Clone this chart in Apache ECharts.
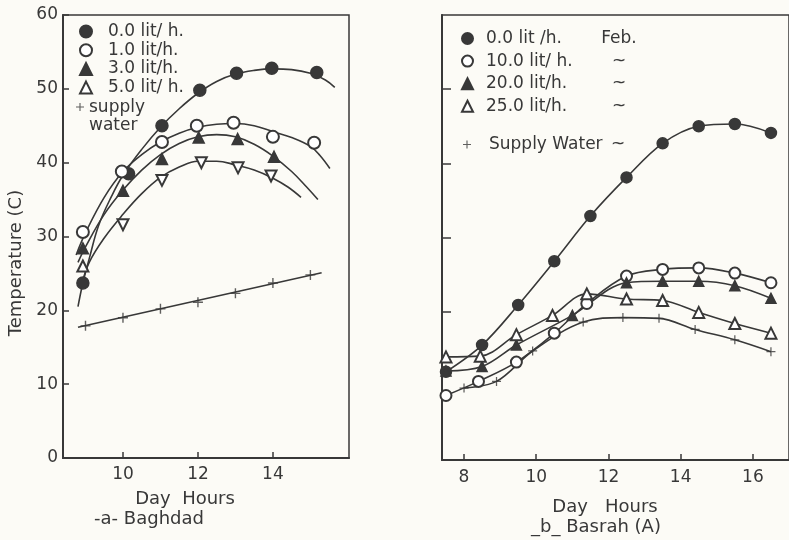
<!DOCTYPE html>
<html><head><meta charset="utf-8">
<script src="https://cdn.jsdelivr.net/npm/echarts@6/dist/echarts.min.js"></script>
<style>html,body{margin:0;padding:0;background:#fcfbf6}#c{width:789px;height:540px}</style>
</head><body><div id="c"></div>
<script>
// ---------- Panel a : Baghdad (markers) ----------
const bagHours0 = [8.93, 10.15, 11.04, 12.05, 13.03, 13.97, 15.17];
const bagTemp0  = [23.7, 38.5, 45.0, 49.8, 52.1, 52.8, 52.2];
const bagHours1 = [8.93, 9.97, 11.04, 11.97, 12.95, 14.0, 15.1];
const bagTemp1  = [30.6, 38.8, 42.8, 45.0, 45.4, 43.5, 42.7];
const bagHours3 = [8.93, 10.0, 11.04, 12.02, 13.06, 14.03];
const bagTemp3  = [28.4, 36.2, 40.5, 43.4, 43.2, 40.8];
const bagHours5 = [8.93, 10.0, 11.04, 12.09, 13.07, 13.95];
const bagTemp5  = [26.0, 31.6, 37.6, 40.0, 39.3, 38.2];
const bagSupplyHours = [9, 10, 11, 12, 13, 14, 15];
const bagSupplyTemp  = [17.9, 19.0, 20.2, 21.1, 22.3, 23.7, 24.8];
// ---------- Panel a : fitted curves ----------
const bagCurve0Hours = [8.8, 8.93, 9.1, 9.35, 9.7, 10, 10.5, 11, 11.5, 12, 12.5, 13, 13.5, 14, 14.5, 15, 15.4, 15.65];
const bagCurve0Temp  = [20.5, 23.7, 27, 31.5, 35.5, 38.3, 41.8, 44.8, 47.3, 49.4, 51, 52, 52.5, 52.7, 52.6, 52.1, 51.2, 50.2];
const bagCurve1Hours = [8.75, 9, 9.5, 10, 10.5, 11, 11.5, 12, 12.5, 13, 13.5, 14, 14.5, 15, 15.25, 15.52];
const bagCurve1Temp  = [27.5, 30.5, 35.3, 38.8, 41.1, 42.8, 44, 44.8, 45.2, 45.3, 45, 44.2, 43.4, 42.2, 41.0, 39.2];
const bagCurve3Hours = [8.8, 9, 9.5, 10, 10.5, 11, 11.5, 12, 12.5, 13, 13.5, 14, 14.5, 14.9, 15.2];
const bagCurve3Temp  = [26.5, 28.6, 33, 36.3, 39, 41.1, 42.6, 43.5, 43.8, 43.5, 42.5, 40.9, 38.8, 36.7, 35.0];
const bagCurve5Hours = [8.9, 9.1, 9.5, 10, 10.5, 11, 11.5, 12, 12.5, 13, 13.5, 14, 14.4, 14.75];
const bagCurve5Temp  = [23.5, 26.5, 29.8, 33, 35.8, 38, 39.4, 40.2, 40.2, 39.7, 39, 37.9, 36.7, 35.3];
const bagSupplyCurveHours = [8.8, 15.3];
const bagSupplyCurveTemp  = [17.7, 25.1];
// ---------- Panel b : Basrah ----------
const basHours0 = [7.5, 8.5, 9.5, 10.5, 11.5, 12.5, 13.5, 14.5, 15.5, 16.5];
const basTemp0  = [11.9, 15.5, 20.9, 26.8, 32.9, 38.1, 42.7, 45.0, 45.3, 44.1];
const basHours10 = [7.5, 8.4, 9.45, 10.5, 11.4, 12.5, 13.5, 14.5, 15.5, 16.5];
const basTemp10  = [8.7, 10.6, 13.2, 17.1, 21.1, 24.8, 25.7, 25.9, 25.2, 23.9];
const basHours20 = [7.5, 8.5, 9.45, 11.0, 12.5, 13.5, 14.5, 15.5, 16.5];
const basTemp20  = [12.0, 12.6, 15.5, 19.5, 23.9, 24.1, 24.1, 23.5, 21.8];
const basHours25 = [7.5, 8.45, 9.45, 10.45, 11.4, 12.5, 13.5, 14.5, 15.5, 16.5];
const basTemp25  = [13.9, 14.0, 16.9, 19.5, 22.4, 21.7, 21.5, 19.9, 18.4, 17.1];
const basSupplyHours = [8.0, 8.9, 9.9, 11.3, 12.4, 13.4, 14.4, 15.5, 16.5];
const basSupplyTemp  = [9.7, 10.6, 14.7, 18.6, 19.2, 19.1, 17.6, 16.2, 14.6];
// ---------- labels ----------
const bagNames = ['0.0 lit/ h.', '1.0 lit/h.', '3.0 lit/h.', '5.0 lit/ h.', 'supply water'];
const basNames = ['0.0 lit /h.', '10.0 lit/ h.', '20.0 lit/h.', '25.0 lit/h.', 'Supply Water'];
const basMonth = ['Feb.', '~', '~', '~', '~'];
const bagXTicks = [10, 12, 14];
const basXTicks = [8, 10, 12, 14, 16];
const yTicksRight = [20, 30, 40, 50];

const ink = '#383838';
const FONT = 'DejaVu Sans';
const zip = (xs, ys) => xs.map((x, i) => [x, ys[i]]);
const PLUS = 'path://M0,4.3H10V5.7H0Z M4.3,0H5.7V10H4.3Z';
const PLUS_TOP = 'path://M0,4.3H10V5.7H0Z M4.3,0H5.7V10H4.3Z M4.99,34.99H5V35H4.99Z';

function curve(xs, ys, gi, smooth) {
  return { type: 'line', xAxisIndex: gi, yAxisIndex: gi, data: zip(xs, ys), showSymbol: false,
    smooth: smooth, lineStyle: { color: ink, width: 1.6 }, silent: true, z: 2 };
}
function marks(name, xs, ys, gi, symbol, size, extra) {
  return Object.assign({ type: 'scatter', name: name, xAxisIndex: gi, yAxisIndex: gi, data: zip(xs, ys),
    symbol: symbol, symbolSize: size, itemStyle: { color: ink, borderColor: ink, borderWidth: 1.5, opacity: 1 }, z: 5 }, extra || {});
}

const bag5Data = zip(bagHours5, bagTemp5).map((p, i) => i === 0 ? { value: p, symbolRotate: 0 } : { value: p });

const series = [
  curve(bagCurve0Hours, bagCurve0Temp, 0, 0.4),
  curve(bagCurve1Hours, bagCurve1Temp, 0, 0.4),
  curve(bagCurve3Hours, bagCurve3Temp, 0, 0.4),
  curve(bagCurve5Hours, bagCurve5Temp, 0, 0.4),
  curve(bagSupplyCurveHours, bagSupplyCurveTemp, 0, false),
  marks(bagNames[0], bagHours0, bagTemp0, 0, 'circle', 12),
  marks(bagNames[1], bagHours1, bagTemp1, 0, 'emptyCircle', 12),
  marks(bagNames[2], bagHours3, bagTemp3, 0, 'triangle', 11),
  Object.assign(marks(bagNames[3], bagHours5, bagTemp5, 0, 'emptyTriangle', 11, { symbolRotate: 180 }), { data: bag5Data }),
  marks(bagNames[4], bagSupplyHours, bagSupplyTemp, 0, PLUS, 10, { itemStyle: { color: ink } }),
  curve(basHours0, basTemp0, 1, 0.35),
  curve(basHours10, basTemp10, 1, 0.35),
  curve(basHours20, basTemp20, 1, 0.35),
  curve(basHours25, basTemp25, 1, 0.35),
  curve(basSupplyHours, basSupplyTemp, 1, 0.35),
  marks(basNames[0], basHours0, basTemp0, 1, 'circle', 11),
  marks(basNames[1], basHours10, basTemp10, 1, 'emptyCircle', 11),
  marks(basNames[2], basHours20, basTemp20, 1, 'triangle', 10),
  marks(basNames[3], basHours25, basTemp25, 1, 'emptyTriangle', 11),
  marks(basNames[4], basSupplyHours, basSupplyTemp, 1, PLUS, 9, { itemStyle: { color: ink } })
];

const txt = { color: ink, fontFamily: FONT, fontSize: 17 };
const rt = (extra) => Object.assign({ lineHeight: 18 }, txt, extra);
const chart = echarts.init(document.getElementById('c'), null, { renderer: 'canvas' });
chart.setOption({
  backgroundColor: '#fcfbf6',
  animation: false,
  grid: [
    { left: 63, right: 440, top: 15, bottom: 82, show: true, borderColor: ink, borderWidth: 1.5 },
    { left: 442, right: -17, top: 15, bottom: 80, show: true, borderColor: ink, borderWidth: 1.5 }
  ],
  xAxis: [
    { type: 'value', gridIndex: 0, min: 8.4, max: 16.03, splitLine: { show: false },
      axisLine: { lineStyle: { color: ink, width: 2 } },
      axisTick: { inside: true, length: 6, customValues: bagXTicks, lineStyle: { color: ink, width: 1.5 } },
      axisLabel: Object.assign({ customValues: bagXTicks, margin: 8 }, txt) },
    { type: 'value', gridIndex: 1, min: 7.39, max: 17, splitLine: { show: false },
      axisLine: { lineStyle: { color: ink, width: 2 } },
      axisTick: { inside: true, length: 6, customValues: basXTicks, lineStyle: { color: ink, width: 1.5 } },
      axisLabel: Object.assign({ customValues: basXTicks, margin: 9 }, txt) }
  ],
  yAxis: [
    { type: 'value', gridIndex: 0, min: 0, max: 60, interval: 10, splitLine: { show: false },
      axisLine: { show: true, lineStyle: { color: ink, width: 2 } },
      axisTick: { show: true, inside: true, length: 6, lineStyle: { color: ink, width: 1.5 } },
      axisLabel: Object.assign({ margin: 5 }, txt) },
    { type: 'value', gridIndex: 1, min: 0, max: 60, splitLine: { show: false },
      axisLine: { show: true, lineStyle: { color: ink, width: 2 } },
      axisTick: { show: true, inside: true, length: 9, customValues: yTicksRight, lineStyle: { color: ink, width: 1.5 } },
      axisLabel: { show: false } }
  ],
  legend: [
    { orient: 'vertical', left: 79, top: 23, padding: 0, itemWidth: 12, itemHeight: 12, itemGap: 1.7, symbolRotate: 0,
      data: bagNames.slice(0, 4), selectedMode: false,
      formatter: (n) => '{p| }{a|' + n + '}',
      textStyle: { rich: { p: rt({ width: 11 }), a: rt({}) } } },
    { orient: 'vertical', left: 76, top: 99, padding: 0, itemWidth: 8, itemHeight: 30, itemGap: 0,
      data: [{ name: bagNames[4], icon: PLUS_TOP }], selectedMode: false,
      formatter: () => 'supply\nwater', textStyle: rt({}) },
    { orient: 'vertical', left: 461, top: 30, padding: 0, itemWidth: 11, itemHeight: 11, itemGap: 5.6,
      data: basNames.slice(0, 4), selectedMode: false,
      formatter: (n) => '{p| }{a|' + n + '}{b|' + basMonth[basNames.indexOf(n)] + '}',
      textStyle: { rich: { p: rt({ width: 8 }), a: rt({ width: 113 }), b: rt({ width: 40, align: 'center' }) } } },
    { orient: 'vertical', left: 463, top: 136, padding: 0, itemWidth: 8, itemHeight: 8, itemGap: 0,
      data: [basNames[4]], selectedMode: false,
      formatter: (n) => '{p| }{a|' + n + '}{b|' + basMonth[4] + '}',
      textStyle: { rich: { p: rt({ width: 13 }), a: rt({ width: 109 }), b: rt({ width: 40, align: 'center' }) } } }
  ],
  graphic: [
    { type: 'text', x: 185, y: 499, style: { text: 'Day  Hours', fill: ink, font: '18px "DejaVu Sans"', align: 'center', verticalAlign: 'middle' } },
    { type: 'text', x: 149, y: 519, style: { text: '-a- Baghdad', fill: ink, font: '18px "DejaVu Sans"', align: 'center', verticalAlign: 'middle' } },
    { type: 'text', x: 605, y: 507, style: { text: 'Day   Hours', fill: ink, font: '18px "DejaVu Sans"', align: 'center', verticalAlign: 'middle' } },
    { type: 'text', x: 596, y: 527, style: { text: '_b_ Basrah (A)', fill: ink, font: '18px "DejaVu Sans"', align: 'center', verticalAlign: 'middle' } },
    { type: 'text', x: 16, y: 263, rotation: Math.PI / 2, style: { text: 'Temperature (C)', fill: ink, font: '18px "DejaVu Sans"', align: 'center', verticalAlign: 'middle' } }
  ],
  series: series
});
</script></body></html>
